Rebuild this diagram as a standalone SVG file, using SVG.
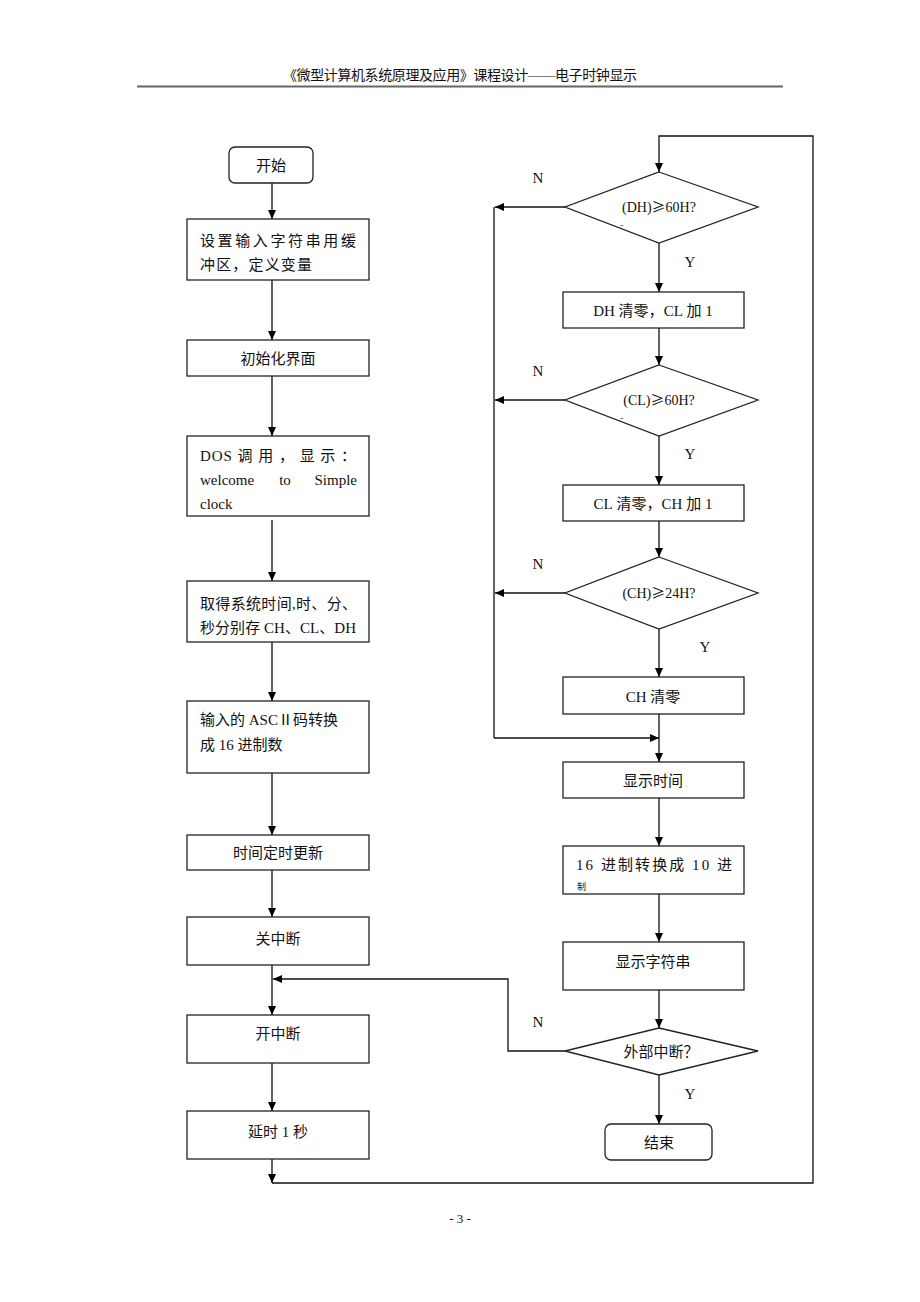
<svg xmlns="http://www.w3.org/2000/svg" width="920" height="1302" viewBox="0 0 920 1302">
<defs>
<marker id="ah" markerWidth="10" markerHeight="10" refX="9" refY="4" orient="auto" markerUnits="userSpaceOnUse">
<path d="M0,0 L9,4 L0,8 Z" fill="#000"/>
</marker>
<style>
.b{fill:#fff;stroke:#222;stroke-width:1.3}
.t{font-family:"Liberation Serif","Noto Sans CJK SC",serif;font-size:15px;fill:#111}
.s{font-family:"Liberation Serif",serif}
.c{text-anchor:middle}
.d{font-family:"Liberation Serif","Noto Sans CJK SC",serif;font-size:14px;fill:#111;text-anchor:middle}
.l{font-family:"Liberation Serif",serif;font-size:15px;fill:#111}
.e{fill:none;stroke:#111;stroke-width:1.3}
.a{fill:none;stroke:#111;stroke-width:1.3;marker-end:url(#ah)}
</style>
</defs>
<rect width="920" height="1302" fill="#fff"/>
<g id="header">
<text x="460" y="80" class="t c" style="font-size:14px" textLength="354">《微型计算机系统原理及应用》课程设计——电子时钟显示</text>
<line x1="137" y1="86.5" x2="783" y2="86.5" stroke="#666" stroke-width="2"/>
</g>
<g id="connectors">
<line class="a" x1="272" y1="183" x2="272" y2="219"/>
<line class="a" x1="272" y1="280" x2="272" y2="340"/>
<line class="a" x1="272" y1="376" x2="272" y2="436"/>
<line class="a" x1="272" y1="520" x2="272" y2="581"/>
<line class="a" x1="272" y1="642" x2="272" y2="701"/>
<line class="a" x1="272" y1="773" x2="272" y2="835"/>
<line class="a" x1="272" y1="870" x2="272" y2="917"/>
<line class="a" x1="272" y1="965" x2="272" y2="1015"/>
<line class="a" x1="272" y1="1063" x2="272" y2="1111"/>
<line class="a" x1="272" y1="1159" x2="272" y2="1183"/>
<polyline class="a" points="272,1183 813,1183 813,136 659,136 659,172"/>
<line class="a" x1="659" y1="243" x2="659" y2="292"/>
<line class="a" x1="659" y1="328" x2="659" y2="365"/>
<line class="a" x1="659" y1="436" x2="659" y2="485"/>
<line class="a" x1="659" y1="521" x2="659" y2="557"/>
<line class="a" x1="659" y1="629" x2="659" y2="677"/>
<line class="a" x1="659" y1="714" x2="659" y2="762"/>
<line class="a" x1="659" y1="798" x2="659" y2="846"/>
<line class="a" x1="659" y1="894" x2="659" y2="942"/>
<line class="a" x1="659" y1="990" x2="659" y2="1028"/>
<line class="a" x1="659" y1="1075" x2="659" y2="1124"/>
<line class="a" x1="565" y1="207" x2="495" y2="207"/>
<line class="a" x1="565" y1="400" x2="495" y2="400"/>
<line class="a" x1="565" y1="593" x2="495" y2="593"/>
<line class="e" x1="494" y1="207" x2="494" y2="738"/>
<line class="a" x1="494" y1="738" x2="659" y2="738"/>
<polyline class="a" points="565,1051 508,1051 508,979 273,979"/>
<text x="538" y="183" class="l c">N</text>
<text x="690" y="267" class="l c">Y</text>
<text x="538" y="376" class="l c">N</text>
<text x="690" y="459" class="l c">Y</text>
<text x="538" y="569" class="l c">N</text>
<text x="705" y="652" class="l c">Y</text>
<text x="538" y="1027" class="l c">N</text>
<text x="690" y="1099" class="l c">Y</text>
</g>
<g id="start">
<rect class="b" x="229" y="147" width="84" height="36" rx="6"/>
<text x="271" y="171" class="t c">开始</text>
</g>
<g id="setup">
<rect class="b" x="187" y="219" width="182" height="61"/>
<text x="200" y="246" class="t" textLength="156" lengthAdjust="spacing">设置输入字符串用缓</text>
<text x="200" y="270" class="t" textLength="112" lengthAdjust="spacing">冲区，定义变量</text>
</g>
<g id="init">
<rect class="b" x="187" y="340" width="182" height="36"/>
<text x="278" y="364" class="t c">初始化界面</text>
</g>
<g id="dos">
<rect class="b" x="187" y="436" width="182" height="80"/>
<text x="200" y="461" class="t" textLength="156" lengthAdjust="spacing"><tspan class="s">DOS</tspan> 调 用 ， 显 示 ：</text>
<text x="200" y="485" class="t s">welcome</text>
<text x="285" y="485" class="t s c">to</text>
<text x="357" y="485" class="t s" text-anchor="end">Simple</text>
<text x="200" y="509" class="t s">clock</text>
</g>
<g id="gettime">
<rect class="b" x="187" y="581" width="182" height="61"/>
<text x="200" y="609" class="t" textLength="157" lengthAdjust="spacing">取得系统时间,时、分、</text>
<text x="200" y="633" class="t" textLength="156" lengthAdjust="spacing">秒分别存 <tspan class="s">CH</tspan>、<tspan class="s">CL</tspan>、<tspan class="s">DH</tspan></text>
</g>
<g id="convert">
<rect class="b" x="187" y="701" width="182" height="72"/>
<text x="200" y="725" class="t">输入的 <tspan class="s">ASC</tspan>Ⅱ码转换</text>
<text x="200" y="750" class="t">成 <tspan class="s">16</tspan> 进制数</text>
</g>
<g id="timer">
<rect class="b" x="187" y="835" width="182" height="35"/>
<text x="278" y="858" class="t c">时间定时更新</text>
</g>
<g id="cli">
<rect class="b" x="187" y="917" width="182" height="48"/>
<text x="278" y="944" class="t c">关中断</text>
</g>
<g id="sti">
<rect class="b" x="187" y="1015" width="182" height="48"/>
<text x="278" y="1039" class="t c">开中断</text>
</g>
<g id="delay">
<rect class="b" x="187" y="1111" width="182" height="48"/>
<text x="278" y="1137" class="t c">延时 <tspan class="s">1</tspan> 秒</text>
</g>
<g id="d1">
<polygon class="b" points="659,172 758,207 659,243 565,207"/>
<text x="659" y="212" class="d">(DH)<tspan style="font-family:'Noto Sans CJK SC',sans-serif">≥</tspan>60H?</text>
<text x="622" y="228" class="d" style="font-size:9px">-</text>
</g>
<g id="dhclr">
<rect class="b" x="563" y="292" width="181" height="36"/>
<text x="653" y="316" class="t c"><tspan class="s">DH</tspan> 清零，<tspan class="s">CL</tspan> 加 <tspan class="s">1</tspan></text>
</g>
<g id="d2">
<polygon class="b" points="659,365 758,400 659,436 565,400"/>
<text x="659" y="405" class="d">(CL)<tspan style="font-family:'Noto Sans CJK SC',sans-serif">≥</tspan>60H?</text>
<text x="622" y="421" class="d" style="font-size:9px">-</text>
</g>
<g id="clclr">
<rect class="b" x="563" y="485" width="181" height="36"/>
<text x="653" y="509" class="t c"><tspan class="s">CL</tspan> 清零，<tspan class="s">CH</tspan> 加 <tspan class="s">1</tspan></text>
</g>
<g id="d3">
<polygon class="b" points="659,557 758,593 659,629 565,593"/>
<text x="659" y="598" class="d">(CH)<tspan style="font-family:'Noto Sans CJK SC',sans-serif">≥</tspan>24H?</text>
</g>
<g id="chclr">
<rect class="b" x="563" y="677" width="181" height="37"/>
<text x="653" y="702" class="t c"><tspan class="s">CH</tspan> 清零</text>
</g>
<g id="showtime">
<rect class="b" x="563" y="762" width="181" height="36"/>
<text x="653" y="786" class="t c">显示时间</text>
</g>
<g id="hex2dec">
<rect class="b" x="563" y="846" width="181" height="48"/>
<text x="576" y="870" class="t" textLength="156" lengthAdjust="spacing"><tspan class="s">16</tspan> 进制转换成 <tspan class="s">10</tspan> 进</text>
<text x="577" y="890" class="t" style="font-size:9px">制</text>
</g>
<g id="showstr">
<rect class="b" x="563" y="942" width="181" height="48"/>
<text x="653" y="967" class="t c">显示字符串</text>
</g>
<g id="d4">
<polygon class="b" points="659,1028 758,1051 659,1075 565,1051"/>
<text x="661" y="1057" class="t c" style="font-family:'Noto Sans CJK SC',sans-serif">外部中断？</text>
</g>
<g id="end">
<rect class="b" x="605" y="1124" width="107" height="36" rx="6"/>
<text x="659" y="1148" class="t c">结束</text>
</g>
<g id="footer">
<text x="460" y="1223" class="t c" style="font-size:13px">- 3 -</text>
</g>
</svg>
